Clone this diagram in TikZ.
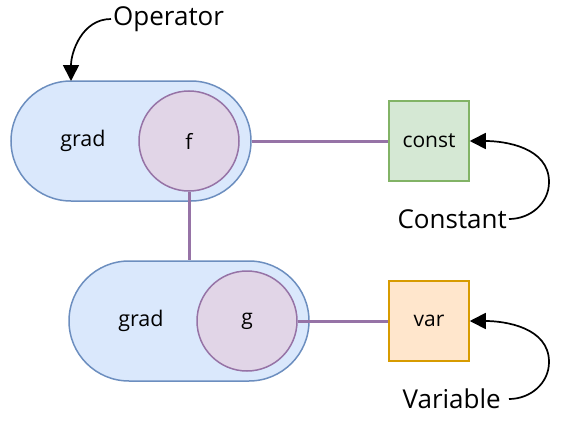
\documentclass[tikz,border=0pt]{standalone}
\usepackage{fontspec}
\setmainfont{Open Sans}
\usetikzlibrary{arrows.meta}
\definecolor{pillfill}{HTML}{DAE8FC}
\definecolor{pilldraw}{HTML}{6C8EBF}
\definecolor{circfill}{HTML}{E1D5E7}
\definecolor{circdraw}{HTML}{9673A6}
\definecolor{constfill}{HTML}{D5E8D4}
\definecolor{constdraw}{HTML}{82B366}
\definecolor{varfill}{HTML}{FFE6CC}
\definecolor{vardraw}{HTML}{D79B00}
\tikzset{
  pill/.style={draw=pilldraw, fill=pillfill, line width=1.5pt, rounded corners=60pt, minimum width=240pt, minimum height=120pt, inner sep=0pt},
  fcirc/.style={circle, draw=circdraw, fill=circfill, line width=1.5pt, minimum size=100pt, inner sep=0pt, font=\fontsize{21}{24}\selectfont},
  sbox/.style={draw, line width=1.5pt, minimum size=80pt, inner sep=0pt, font=\fontsize{21}{24}\selectfont},
  lbl/.style={inner sep=0pt, font=\fontsize{21.5}{24}\selectfont},
  note/.style={inner sep=2pt, font=\fontsize{26}{29}\selectfont},
  link/.style={draw=circdraw, line width=3pt},
  callout/.style={draw=black, line width=1.7pt, -{Triangle[length=16pt,width=16pt]}},
}
\begin{document}
\begin{tikzpicture}[x=1pt,y=-1pt]
\useasboundingbox (0,0) rectangle (564,420);
% pills
\node[pill] (p1) at (131,141) {};
\node[pill] (p2) at (189,321) {};
\node[lbl] (grad1) at (83,141) {grad};
\node[lbl] (grad2) at (141,321) {grad};
\node[fcirc] (f) at (189,141) {f};
\node[fcirc] (g) at (247,321) {g};
% boxes
\node[sbox, draw=constdraw, fill=constfill] (const) at (429,141) {const};
\node[sbox, draw=vardraw, fill=varfill] (var) at (429,321) {var};
% links
\draw[link] (f.south) -- (p2.north -| f.south);
\draw[link] (p1.east) -- (const.west);
\draw[link] (g.east) -- (var.west);
% notes
\node[note, anchor=west] (op) at (111,19) {Operator};
\node[note, anchor=east] (cn) at (509,219) {Constant};
\node[note, anchor=east, inner sep=8pt] (vr) at (509,399) {Variable};
\coordinate (optop) at (71,81);
\draw[callout] (op.west) to[out=180,in=90] (optop);
\coordinate (cmid) at (549,182);
\coordinate (vmid) at (549,362);
\draw[callout] (cn.east) to[out=0,in=-90] (cmid) to[out=90,in=0] (const.east);
\draw[callout] (vr.east) to[out=0,in=-90] (vmid) to[out=90,in=0] (var.east);
\end{tikzpicture}
\end{document}
